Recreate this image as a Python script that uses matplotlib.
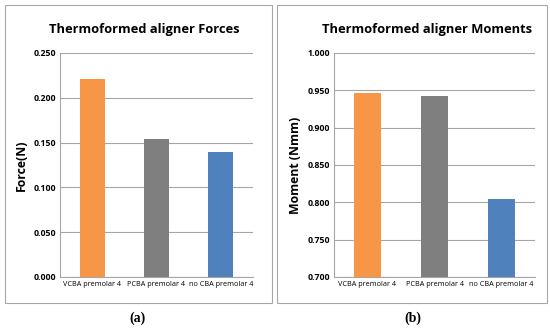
import matplotlib.pyplot as plt
import matplotlib.patches as mpatches

categories = ["VCBA premolar 4", "PCBA premolar 4", "no CBA premolar 4"]
forces = [0.221, 0.154, 0.140]
moments = [0.947, 0.942, 0.805]
force_ticks = [0.000, 0.050, 0.100, 0.150, 0.200, 0.250]
moment_ticks = [0.700, 0.750, 0.800, 0.850, 0.900, 0.950, 1.000]
bar_colors = ["#F79646", "#7F7F7F", "#4F81BD"]

W, H = 550, 331
fig = plt.figure(figsize=(5.5, 3.31), dpi=100)
fig.patch.set_facecolor("white")

FONT = "Open Sans"


def px(x0, y0, x1, y1):
    # pixel box -> figure fraction
    return [x0 / W, 1 - y1 / H, (x1 - x0) / W, (y1 - y0) / H]


def panel(ax, values, ticks, ylabel, title, title_x, frame):
    x = range(len(categories))
    ax.bar(x, values, width=0.39, color=bar_colors, zorder=3)
    ax.set_ylim(ticks[0], ticks[-1])
    ax.set_yticks(ticks)
    ax.set_yticklabels([f"{t:.3f}" for t in ticks], fontsize=6.3,
                       fontweight="bold", family=FONT)
    ax.set_xticks(list(x))
    ax.set_xticklabels(categories, fontsize=5.2, family=FONT)
    ax.set_xlim(-0.5, 2.5)
    ax.grid(axis="y", color="#a6a6a6", linewidth=0.8, zorder=0)
    for s in ["top", "right"]:
        ax.spines[s].set_visible(False)
    ax.spines["left"].set_color("#a6a6a6")
    ax.spines["bottom"].set_color("#a6a6a6")
    ax.tick_params(length=0, pad=3)
    ax.set_ylabel(ylabel, fontsize=8.8, fontweight="bold", family=FONT,
                  labelpad=4)
    fig.text(title_x / W, 1 - 29 / H, title, ha="center", va="center",
             fontsize=9.3, fontweight="bold", family=FONT)
    fig.patches.append(mpatches.Rectangle(
        (frame[0] / W, 1 - frame[3] / H), (frame[2] - frame[0]) / W,
        (frame[3] - frame[1]) / H, transform=fig.transFigure,
        fill=False, edgecolor="#a6a6a6", linewidth=0.8))


ax1 = fig.add_axes(px(60, 53, 253, 277))
panel(ax1, forces, force_ticks, "Force(N)", "Thermoformed aligner Forces",
      144, (5, 5, 272, 303))

ax2 = fig.add_axes(px(334, 53, 535, 277))
panel(ax2, moments, moment_ticks, "Moment (Nmm)",
      "Thermoformed aligner Moments", 427, (277, 5, 547, 303))

fig.text(137 / W, 1 - 318 / H, "(a)", ha="center", va="center",
         fontsize=10, family="Liberation Serif", fontweight="bold")
fig.text(413 / W, 1 - 318 / H, "(b)", ha="center", va="center",
         fontsize=10, family="Liberation Serif", fontweight="bold")

fig.savefig("out.png", dpi=100)
